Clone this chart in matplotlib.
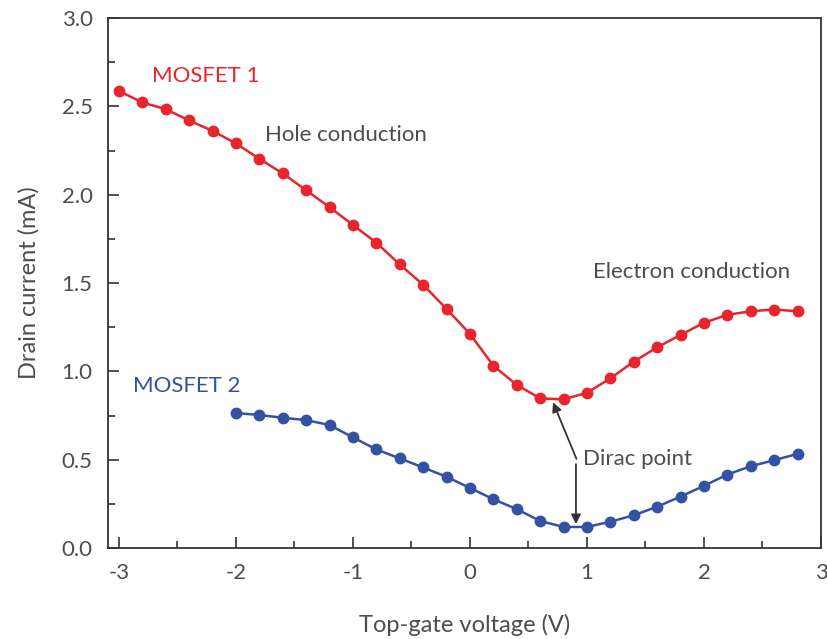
import matplotlib
matplotlib.use("Agg")
import matplotlib.pyplot as plt
from matplotlib.ticker import MultipleLocator

plt.rcParams['font.family'] = ['Lato', 'DejaVu Sans']

x1 = [-3.0, -2.8, -2.6, -2.4, -2.2, -2.0, -1.8, -1.6, -1.4, -1.2, -1.0, -0.8, -0.6, -0.4, -0.2,
      0.0, 0.2, 0.4, 0.6, 0.8, 1.0, 1.2, 1.4, 1.6, 1.8, 2.0, 2.2, 2.4, 2.6, 2.8]
mosfet1 = [2.587, 2.522, 2.484, 2.420, 2.361, 2.290, 2.203, 2.120, 2.025, 1.929, 1.828, 1.728,
           1.605, 1.490, 1.353, 1.212, 1.032, 0.923, 0.847, 0.841, 0.879, 0.960, 1.055, 1.136,
           1.206, 1.275, 1.320, 1.340, 1.350, 1.340]
x2 = [-2.0, -1.8, -1.6, -1.4, -1.2, -1.0, -0.8, -0.6, -0.4, -0.2, 0.0, 0.2, 0.4, 0.6, 0.8,
      1.0, 1.2, 1.4, 1.6, 1.8, 2.0, 2.2, 2.4, 2.6, 2.8]
mosfet2 = [0.764, 0.753, 0.737, 0.724, 0.696, 0.626, 0.558, 0.507, 0.456, 0.403, 0.340, 0.276,
           0.220, 0.153, 0.119, 0.119, 0.149, 0.185, 0.234, 0.291, 0.352, 0.416, 0.463, 0.497,
           0.533]
xticks = [-3, -2, -1, 0, 1, 2, 3]
yticks = [0.0, 0.5, 1.0, 1.5, 2.0, 2.5, 3.0]

red = '#e8242c'
blue = '#3451a3'
grey = '#4d4d4d'

fig = plt.figure(figsize=(8.28, 6.39), dpi=100)
ax = fig.add_axes([0.1304, 0.1424, 0.8611, 0.8294])

ax.plot(x1, mosfet1, '-o', color=red, lw=1.8, ms=7.5, zorder=3)
ax.plot(x2, mosfet2, '-o', color=blue, lw=1.8, ms=7.5, zorder=3)

ax.set_xlim(-3.094, 3.0)
ax.set_ylim(0, 3.0)
ax.set_xticks(xticks)
ax.set_xticklabels([str(t) for t in xticks])
ax.set_yticks(yticks)
ax.set_yticklabels([f"{t:.1f}" for t in yticks])
ax.xaxis.set_minor_locator(MultipleLocator(0.5))
ax.yaxis.set_minor_locator(MultipleLocator(0.25))
ax.tick_params(which='both', direction='in', top=False, right=False, colors='#333333',
               labelcolor=grey, labelsize=16)
ax.tick_params(which='major', length=8, width=1.2)
ax.tick_params(which='minor', length=5, width=1.2)
ax.tick_params(axis='x', pad=11)
ax.tick_params(axis='y', pad=11)
for s in ax.spines.values():
    s.set_color('#333333')
    s.set_linewidth(1.3)

ax.set_xlabel('Top-gate voltage (V)', fontsize=17, color=grey, labelpad=22)
ax.set_ylabel('Drain current (mA)', fontsize=17, color=grey, labelpad=16)

ax.text(-2.72, 2.67, 'MOSFET 1', color=red, fontsize=16, va='center', ha='left')
ax.text(-1.75, 2.34, 'Hole conduction', color=grey, fontsize=16, va='center', ha='left')
ax.text(1.05, 1.565, 'Electron conduction', color=grey, fontsize=16, va='center', ha='left')
ax.text(-2.88, 0.915, 'MOSFET 2', color=blue, fontsize=16, va='center', ha='left')
ax.text(0.97, 0.505, 'Dirac point', color=grey, fontsize=16, va='center', ha='left')

ax.annotate('', xy=(0.71, 0.825), xytext=(0.91, 0.505),
            arrowprops=dict(arrowstyle='-|>', color='#333333', lw=1.3, mutation_scale=14,
                            shrinkA=0, shrinkB=0))
ax.annotate('', xy=(0.906, 0.135), xytext=(0.906, 0.475),
            arrowprops=dict(arrowstyle='-|>', color='#333333', lw=1.3, mutation_scale=14,
                            shrinkA=0, shrinkB=0))

fig.savefig('out.png', dpi=100)
